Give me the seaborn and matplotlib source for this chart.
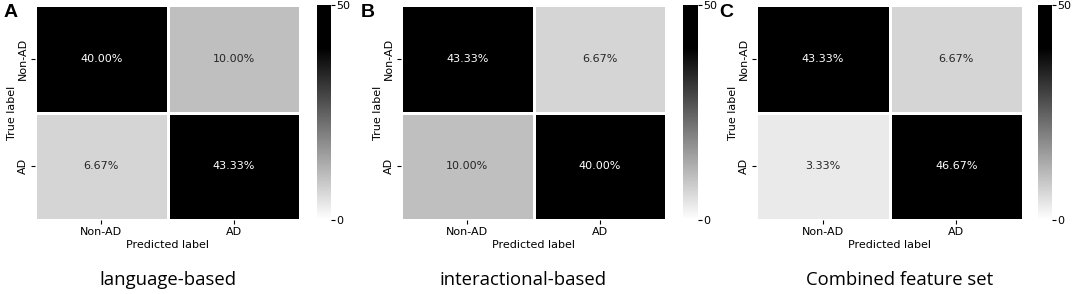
import matplotlib
matplotlib.use("Agg")
import matplotlib.pyplot as plt
from matplotlib.colors import LinearSegmentedColormap
import numpy as np
import seaborn as sns

# Confusion matrices in percent (rows = true label, cols = predicted label)
class_labels = ["Non-AD", "AD"]
language_based = [[40.00, 10.00], [6.67, 43.33]]
interactional_based = [[43.33, 6.67], [10.00, 40.00]]
combined_features = [[43.33, 6.67], [3.33, 46.67]]
captions = ["language-based", "interactional-based", "Combined feature set"]
panel_letters = ["A", "B", "C"]

W, H = 1072, 294
fig = plt.figure(figsize=(W / 100, H / 100), dpi=100)

# white -> black, saturated a bit before the top of the scale
cmap = LinearSegmentedColormap.from_list("bw", [(0, "white"), (0.8, "black"), (1, "black")])

# pixel layout: heatmap left/right, colorbar left/right, caption centre, letter x
layout = [
    (35, 300, 317, 331, 168, 4),
    (401, 666, 683, 698, 523, 361),
    (756, 1023, 1038, 1052, 900, 719),
]
top, bottom = 5, 220

for data, cap, letter, (hl, hr, cl, cr, cx, lx) in zip(
        [language_based, interactional_based, combined_features], captions, panel_letters, layout):
    vals = np.array(data)
    labels = np.array([[f"{v:.2f}%" for v in row] for row in vals])
    ax = fig.add_axes([hl / W, 1 - bottom / H, (hr - hl) / W, (bottom - top) / H])
    cax = fig.add_axes([cl / W, 1 - bottom / H, (cr - cl) / W, (bottom - top) / H])
    sns.heatmap(vals, ax=ax, cbar_ax=cax, cmap=cmap, vmin=0, vmax=50,
                annot=labels, fmt="", annot_kws={"fontsize": 8},
                linewidths=0.8, linecolor="white",
                xticklabels=class_labels, yticklabels=class_labels)
    ax.set_xlabel("Predicted label", fontsize=8, labelpad=2)
    ax.set_ylabel("True label", fontsize=8, labelpad=1)
    ax.tick_params(labelsize=8, length=3, pad=2)
    ax.set_yticklabels(class_labels, rotation=90, va="center")
    cax.set_yticks([0, 50])
    cax.tick_params(labelsize=8, length=3, pad=1)
    fig.text(cx / W, 1 - 280 / H, cap, ha="center", va="center", fontsize=13.3, family="Open Sans")
    fig.text(lx / W, 1 - 4 / H, letter, ha="left", va="top", fontsize=14,
             fontweight="bold", family="Liberation Sans")

fig.savefig("out.png", dpi=100)
